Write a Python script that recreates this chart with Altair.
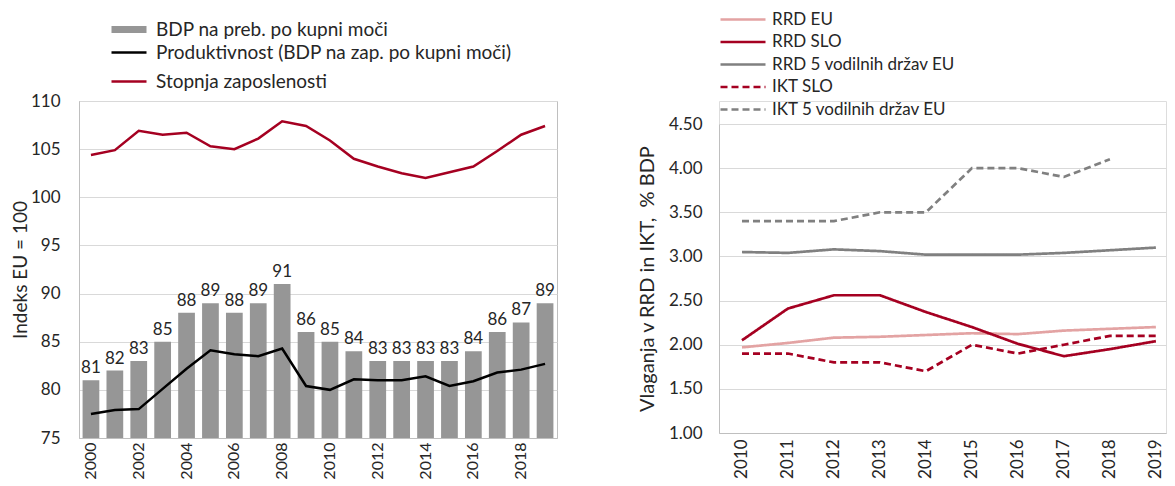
import altair as alt
import pandas as pd

# ---------------- data ----------------
years_a = list(range(2000, 2020))
bdp_pc = [81, 82, 83, 85, 88, 89, 88, 89, 91, 86, 85, 84, 83, 83, 83, 83, 84, 86, 87, 89]
productivity = [77.5, 77.9, 78.0, 80.1, 82.2, 84.1, 83.7, 83.5, 84.3, 80.4,
                80.0, 81.1, 81.0, 81.0, 81.4, 80.4, 80.9, 81.8, 82.1, 82.7]
employment = [104.4, 104.9, 106.9, 106.5, 106.7, 105.3, 105.0, 106.1, 107.9, 107.4,
              105.9, 104.0, 103.2, 102.5, 102.0, 102.6, 103.2, 104.8, 106.5, 107.4]
even_years = [y for y in years_a if y % 2 == 0]
left_ticks = [75, 80, 85, 90, 95, 100, 105, 110]

bar_name = "BDP na preb. po kupni moči"
prod_name = "Produktivnost (BDP na zap. po kupni moči)"
emp_name = "Stopnja zaposlenosti"

years_b = list(range(2010, 2020))
rrd_eu = [1.97, 2.02, 2.08, 2.09, 2.11, 2.13, 2.12, 2.16, 2.18, 2.20]
rrd_slo = [2.05, 2.41, 2.56, 2.56, 2.37, 2.20, 2.01, 1.87, 1.95, 2.04]
rrd_top5 = [3.05, 3.04, 3.08, 3.06, 3.02, 3.02, 3.02, 3.04, 3.07, 3.10]
ikt_slo = [1.90, 1.90, 1.80, 1.80, 1.70, 2.00, 1.90, 2.00, 2.10, 2.10]
ikt_top5 = [3.40, 3.40, 3.40, 3.50, 3.50, 4.00, 4.00, 3.90, 4.10, None]
right_series = ["RRD EU", "RRD SLO", "RRD 5 vodilnih držav EU", "IKT SLO", "IKT 5 vodilnih držav EU"]
right_colors = ["#E3A3A3", "#A50021", "#808080", "#A50021", "#808080"]
right_dash = [[1, 0], [1, 0], [1, 0], [7, 4], [7, 4]]
right_ticks = [1.0, 1.5, 2.0, 2.5, 3.0, 3.5, 4.0, 4.5]

FONT = "Lato"
TXT = "#262626"
GRID = "#D9D9D9"
FRAME = "#BFBFBF"

LINE_SYM = "M-2.5,0H2.5"
BAR_SYM = "M-2.5,-0.5H2.5V0.5H-2.5Z"

# ---------------- left chart ----------------
bars_df = pd.DataFrame({"year": years_a, "value": bdp_pc, "series": bar_name})
lines_df = pd.concat([
    pd.DataFrame({"year": years_a, "value": productivity, "series": prod_name}),
    pd.DataFrame({"year": years_a, "value": employment, "series": emp_name}),
])

x_left = alt.X("year:O",
               scale=alt.Scale(paddingInner=0.3, paddingOuter=0.15),
               axis=alt.Axis(values=even_years, labelAngle=-90, title=None, ticks=False,
                             labelFontSize=16, labelPadding=4, domainColor=FRAME,
                             labelColor=TXT, labelFont=FONT))
y_left = alt.Y("value:Q",
               scale=alt.Scale(domain=[75, 110], nice=False, zero=False),
               axis=alt.Axis(values=left_ticks, title="Indeks EU = 100", grid=True, gridColor=GRID,
                             ticks=False, labelFontSize=17, labelPadding=19, labelColor=TXT,
                             titleFontSize=19, titleFontWeight="normal", titleColor=TXT,
                             titlePadding=0, domainColor=FRAME, labelFont=FONT, titleFont=FONT))

bars = alt.Chart(bars_df).mark_bar(clip=True).encode(
    x=x_left,
    y=y_left,
    fill=alt.Fill("series:N", scale=alt.Scale(domain=[bar_name], range=["#969696"]),
                  legend=alt.Legend(orient="none", legendX=40.5, legendY=-81, title=None,
                                    symbolType=BAR_SYM, symbolSize=196,
                                    symbolStrokeWidth=0, labelFontSize=19, labelColor=TXT,
                                    labelFont=FONT, labelOffset=17.5, padding=0, labelLimit=600)),
)
bar_text = alt.Chart(bars_df).mark_text(baseline="bottom", dy=-3, fontSize=17, color=TXT, font=FONT).encode(
    x=alt.X("year:O"), y=alt.Y("value:Q"), text=alt.Text("value:Q"))
lines = alt.Chart(lines_df).mark_line(strokeWidth=2.5).encode(
    x=alt.X("year:O"),
    y=alt.Y("value:Q"),
    stroke=alt.Stroke("series:N", scale=alt.Scale(domain=[prod_name, emp_name], range=["#000000", "#A50021"]),
                      legend=alt.Legend(orient="none", legendX=40.5, legendY=-58, title=None,
                                        symbolType=LINE_SYM, symbolSize=196, symbolStrokeWidth=2.5,
                                        labelFontSize=19, labelColor=TXT, labelFont=FONT, labelOffset=17.5,
                                        rowPadding=9, padding=0, labelLimit=600)),
)
left = alt.layer(bars, bar_text, lines).resolve_scale(fill="independent", stroke="independent").properties(
    width=478, height=337, view=alt.ViewBackground(stroke=FRAME))

# ---------------- right chart ----------------
right_df = pd.concat([
    pd.DataFrame({"year": years_b, "value": vals, "series": name})
    for name, vals in zip(right_series, [rrd_eu, rrd_slo, rrd_top5, ikt_slo, ikt_top5])
])

right_legend = alt.Legend(orient="none", legendX=13.5, legendY=-92, title=None,
                          symbolType=LINE_SYM, symbolSize=324, symbolStrokeWidth=2.5,
                          labelFontSize=17, labelColor=TXT, labelFont=FONT, labelOffset=18.5,
                          rowPadding=3.5, padding=0, labelLimit=600)

right = alt.Chart(right_df).mark_line(strokeWidth=2.7).encode(
    x=alt.X("year:Q", scale=alt.Scale(domain=[2009.5, 2019.22], nice=False, zero=False),
            axis=alt.Axis(values=years_b, format="d", labelAngle=-90, title=None, ticks=False,
                          grid=False, labelFontSize=17, labelPadding=6, labelBaseline="middle",
                          domainColor=FRAME, labelColor=TXT, labelFont=FONT)),
    y=alt.Y("value:Q", scale=alt.Scale(domain=[1.0, 4.5], nice=False, zero=False, range=[332, 23]),
            axis=alt.Axis(values=right_ticks, format=".2f", title="Vlaganja v RRD in IKT,\u00a0 % BDP",
                          grid=True, gridColor=GRID, ticks=False, labelFontSize=17, labelPadding=17,
                          labelColor=TXT, titleFontSize=20, titleFontWeight="normal", titleColor=TXT,
                          titlePadding=11, domainColor=FRAME, labelFont=FONT, titleFont=FONT)),
    color=alt.Color("series:N", scale=alt.Scale(domain=right_series, range=right_colors),
                    legend=right_legend),
    strokeDash=alt.StrokeDash("series:N", scale=alt.Scale(domain=right_series, range=right_dash),
                              legend=right_legend),
).properties(width=447, height=332)

chart = alt.hconcat(left, right, spacing=78).resolve_scale(
    fill="independent", stroke="independent", color="independent", strokeDash="independent"
).resolve_legend(
    fill="independent", stroke="independent", color="independent", strokeDash="independent"
).properties(
    padding={"left": 2, "top": 0, "right": 0, "bottom": 0}
).configure_view(stroke=None).configure(font=FONT)

chart.save("out.html", embed_options={"renderer": "svg", "actions": False})
